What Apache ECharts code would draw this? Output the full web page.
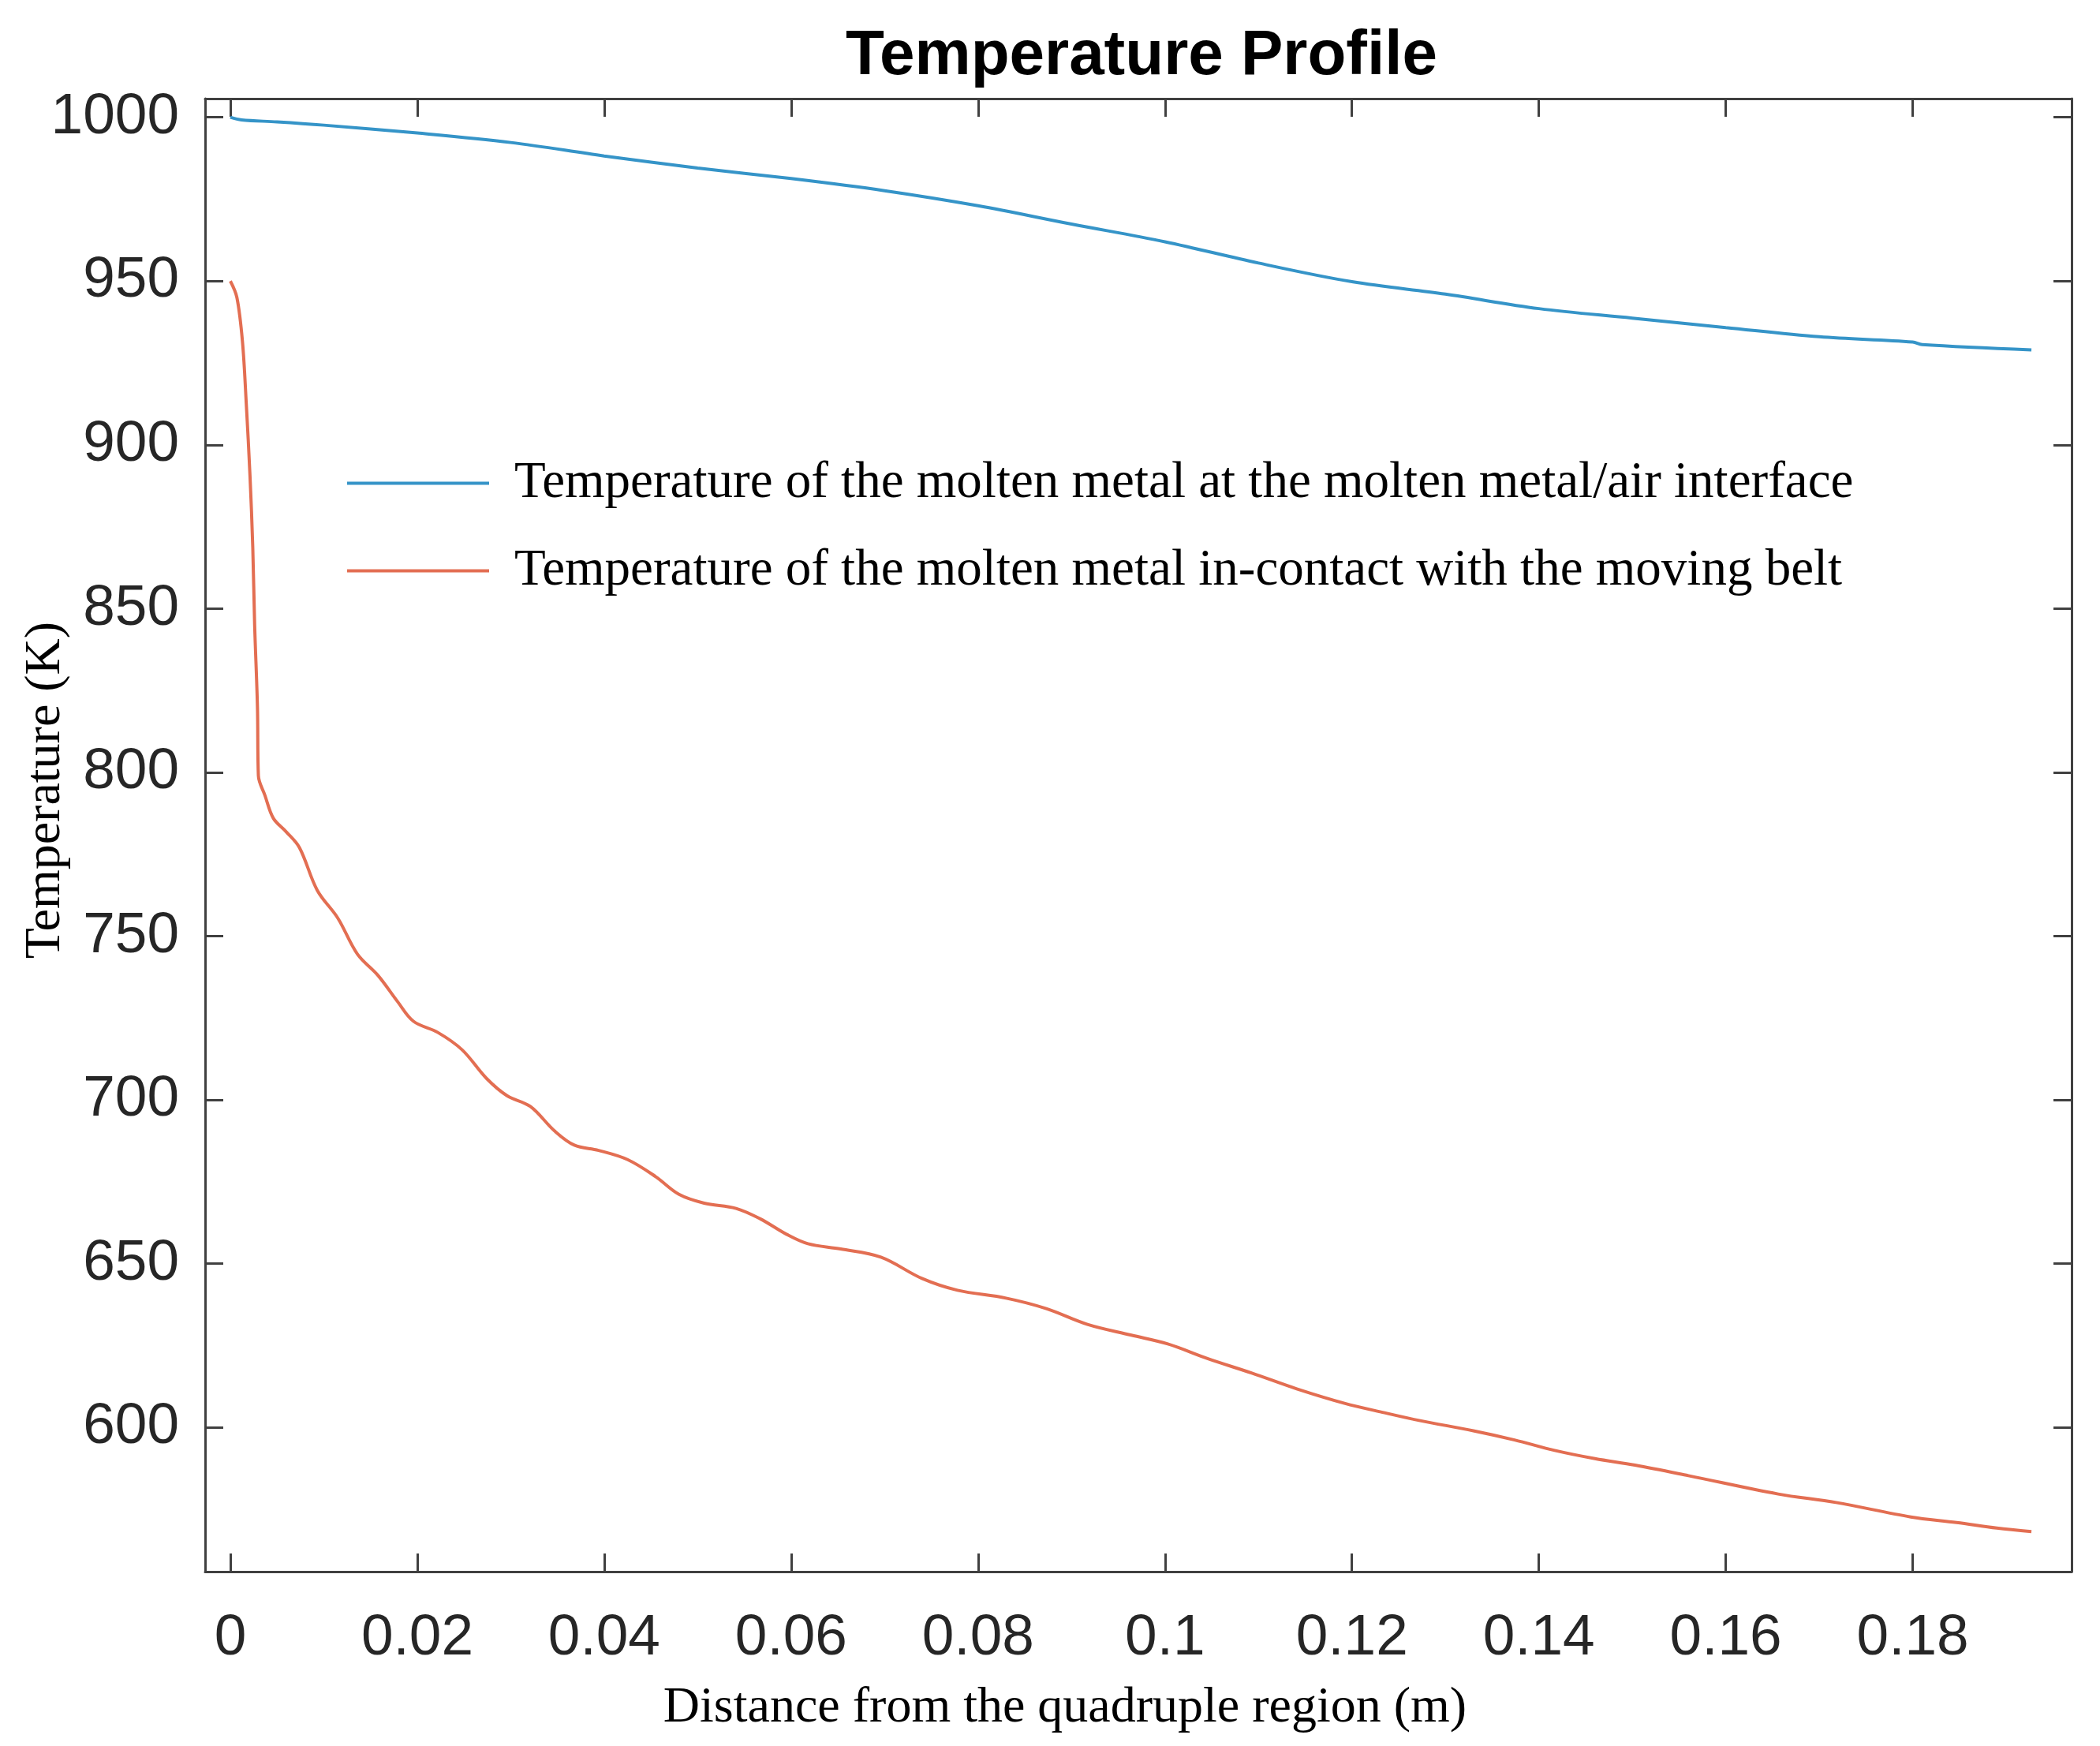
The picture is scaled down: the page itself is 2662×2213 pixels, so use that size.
<!DOCTYPE html>
<html>
<head>
<meta charset="utf-8">
<script src="https://cdn.jsdelivr.net/npm/echarts@6/dist/echarts.min.js"></script>
<style>
html,body{margin:0;padding:0;background:#fff;}
#c{width:2662px;height:2213px;}
</style>
</head>
<body>
<div id="c"></div>
<script>
// ---- data ----
const seriesNames = [
  'Temperature of the molten metal at the molten metal/air interface',
  'Temperature of the molten metal in-contact with the moving belt'
];
const distAir = [0, 0.0012, 0.005, 0.01, 0.02, 0.03, 0.04, 0.05, 0.06, 0.07, 0.08, 0.09, 0.1, 0.11, 0.12, 0.13, 0.14, 0.15, 0.16, 0.17, 0.18, 0.181, 0.1927];
const tempAir = [1000, 999.2, 998.6, 997.6, 995.2, 992.3, 988.2, 984.5, 981.3, 977.6, 973, 967.4, 962, 955.5, 949.8, 946, 941.6, 938.7, 935.8, 933, 931.4, 930.6, 929];
const distBelt = [0, 0.0007, 0.0013, 0.0017, 0.0021, 0.0024, 0.0026, 0.0029, 0.003, 0.0037, 0.0046, 0.006, 0.0074, 0.0093, 0.0115, 0.0136, 0.0158, 0.0179, 0.0196, 0.0222, 0.0248, 0.0274, 0.0296, 0.0321, 0.0347, 0.0368, 0.0394, 0.0425, 0.0455, 0.048, 0.0507, 0.0541, 0.0567, 0.0595, 0.0618, 0.0653, 0.0696, 0.074, 0.0778, 0.083, 0.0873, 0.0917, 0.0964, 0.1003, 0.1046, 0.1093, 0.1141, 0.1192, 0.1235, 0.1273, 0.133, 0.1374, 0.1417, 0.146, 0.1503, 0.156, 0.1656, 0.1718, 0.1798, 0.1847, 0.189, 0.1927];
const tempBelt = [950, 945, 931.4, 912.8, 890.7, 868.7, 845, 820, 799, 793, 786, 781.8, 777, 764, 755.5, 744.5, 738, 730, 724, 720.6, 715.3, 706.6, 701.3, 698, 690.5, 686.2, 684.6, 681.8, 676.6, 671.2, 668.5, 666.9, 663.7, 659, 656.1, 654.5, 652, 645.5, 641.9, 639.5, 636.3, 631.5, 628.2, 625.5, 621, 616.6, 611.8, 607.4, 604.5, 602.1, 599, 596.2, 593, 590.5, 588.5, 585.3, 579.7, 577.1, 572.7, 571, 569.3, 568.2];
const xTicks = [0, 0.02, 0.04, 0.06, 0.08, 0.1, 0.12, 0.14, 0.16, 0.18];
const yTicks = [600, 650, 700, 750, 800, 850, 900, 950, 1000];

const zip = (a, b) => a.map((v, i) => [v, b[i]]);
const axisColor = '#404040';
const labelFont = { fontFamily: 'Liberation Sans, Arial, sans-serif', fontSize: 73, color: '#262626' };
const serif = 'Liberation Serif, Times New Roman, serif';

function xAx(pos, showLabel) {
  return {
    type: 'value', position: pos, min: -0.0027, max: 0.197,
    axisLine: { show: true, onZero: false, lineStyle: { color: axisColor, width: 3 } },
    axisTick: { show: true, inside: true, length: 23, customValues: xTicks, lineStyle: { color: axisColor, width: 3 } },
    axisLabel: Object.assign({ show: showLabel, margin: 48, customValues: xTicks, formatter: v => String(+(+v).toFixed(2)) }, labelFont),
    splitLine: { show: false }
  };
}
function yAx(pos, showLabel) {
  return {
    type: 'value', position: pos, min: 556, max: 1005.7,
    axisLine: { show: true, onZero: false, lineStyle: { color: axisColor, width: 3 } },
    axisTick: { show: true, inside: true, length: 23, customValues: yTicks, lineStyle: { color: axisColor, width: 3 } },
    axisLabel: Object.assign({ show: showLabel, margin: 33, customValues: yTicks, formatter: v => String(Math.round(v)) }, labelFont),
    splitLine: { show: false }
  };
}

const xa = xAx('bottom', true);
xa.name = 'Distance from the quadruple region (m)';
xa.nameLocation = 'middle';
xa.nameGap = 141;
xa.nameMoveOverlap = false;
xa.nameTextStyle = { fontFamily: serif, fontSize: 64, color: '#000', padding: [0, 186, 0, 0] };
const xb = xAx('top', false);
const ya = yAx('left', true);
ya.name = 'Temperature (K)';
ya.nameLocation = 'middle';
ya.nameGap = 170;
ya.nameMoveOverlap = false;
ya.nameTextStyle = { fontFamily: serif, fontSize: 64, color: '#000', padding: [0, 0, 0, 114] };
const yb = yAx('right', false);

const chart = echarts.init(document.getElementById('c'), null, { renderer: 'canvas' });
chart.setOption({
  backgroundColor: '#ffffff',
  animation: false,
  title: {
    text: 'Temperature Profile', left: 1442, top: 27, textAlign: 'center',
    textStyle: { fontFamily: 'Liberation Sans, Arial, sans-serif', fontWeight: 'bold', fontSize: 80, color: '#000' }
  },
  grid: { left: 260, right: 36, top: 125, bottom: 221, containLabel: false, outerBoundsMode: 'none' },
  legend: {
    orient: 'vertical', left: 435, top: 575, icon: 'rect', itemWidth: 180, itemHeight: 4, itemGap: 46,
    textStyle: { fontFamily: serif, fontSize: 65, color: '#000', padding: [0, 0, 0, 27] },
    data: seriesNames
  },
  xAxis: [xa, xb],
  yAxis: [ya, yb],
  series: [
    { name: seriesNames[0], type: 'line', xAxisIndex: 0, yAxisIndex: 0, data: zip(distAir, tempAir),
      showSymbol: false, smooth: 0.35, lineStyle: { color: '#3594c8', width: 4 }, itemStyle: { color: '#3594c8' } },
    { name: seriesNames[1], type: 'line', xAxisIndex: 0, yAxisIndex: 0, data: zip(distBelt, tempBelt),
      showSymbol: false, smooth: 0.35, lineStyle: { color: '#e36e52', width: 4 }, itemStyle: { color: '#e36e52' } }
  ]
});
</script>
</body>
</html>
